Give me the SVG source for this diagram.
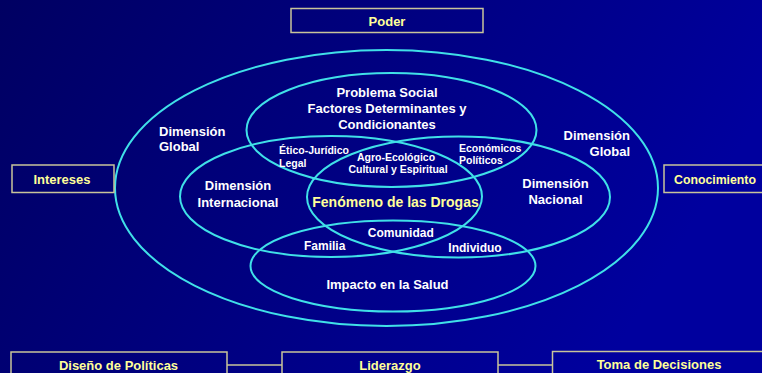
<svg xmlns="http://www.w3.org/2000/svg" width="762" height="373" viewBox="0 0 762 373">
<defs>
<linearGradient id="bg" x1="0" y1="0" x2="1" y2="0.3">
<stop offset="0" stop-color="#000062"/>
<stop offset="1" stop-color="#00009E"/>
</linearGradient>
</defs>
<style>
.ring{fill:none;stroke:#40E0E8;stroke-width:2}
.box{fill:none;stroke:#C8C49A;stroke-width:1.5}
.conn{stroke:#C8C49A;stroke-width:1.5}
.bt{font-family:"Liberation Sans",Arial,sans-serif;font-weight:bold;font-size:13px;fill:#FFFF99;text-anchor:middle}
.w{font-family:"Liberation Sans",Arial,sans-serif;font-weight:bold;font-size:13px;fill:#FFFFFF}
.s{font-family:"Liberation Sans",Arial,sans-serif;font-weight:bold;font-size:10.5px;fill:#FFFFFF}
.m{font-family:"Liberation Sans",Arial,sans-serif;font-weight:bold;font-size:12px;fill:#FFFFFF}
.c{text-anchor:middle}
</style>
<rect x="0" y="0" width="762" height="373" fill="url(#bg)"/>

<g id="global">
<ellipse class="ring" cx="386.5" cy="188" rx="271.5" ry="138"/>
<text class="w" x="159" y="136">Dimensión</text>
<text class="w" x="159" y="151">Global</text>
<text class="w" x="630" y="140" text-anchor="end">Dimensión</text>
<text class="w" x="630" y="156" text-anchor="end">Global</text>
</g>

<g id="problema-social">
<ellipse class="ring" cx="391.5" cy="130" rx="145" ry="57"/>
<text class="w c" x="387" y="97">Problema Social</text>
<text class="w c" x="387" y="113">Factores Determinantes y</text>
<text class="w c" x="387" y="128.5">Condicionantes</text>
</g>

<g id="internacional">
<ellipse class="ring" cx="331" cy="196.5" rx="151" ry="60.5"/>
<text class="w c" x="238" y="190">Dimensión</text>
<text class="w c" x="238" y="206.5">Internacional</text>
</g>

<g id="nacional">
<ellipse class="ring" cx="458.5" cy="197" rx="151.5" ry="60.5"/>
<text class="w c" x="555.5" y="187.5">Dimensión</text>
<text class="w c" x="555.5" y="203.5">Nacional</text>
</g>

<g id="salud">
<ellipse class="ring" cx="393" cy="266" rx="142.5" ry="45.5"/>
<text class="w c" x="387.5" y="289">Impacto en la Salud</text>
</g>

<g id="subfactores">
<text class="s" x="279" y="153.5">Ético-Jurídico</text>
<text class="s" x="279" y="166.5">Legal</text>
<text class="s c" x="396" y="161">Agro-Ecológico</text>
<text class="s c" x="398" y="173">Cultural y Espiritual</text>
<text class="s" x="459" y="152">Económicos</text>
<text class="s" x="459" y="163.5">Políticos</text>
</g>

<g id="fenomeno">
<text class="w c" x="395.5" y="206.5" style="font-size:14px;fill:#FFFF99">Fenómeno de las Drogas</text>
</g>

<g id="niveles">
<text class="m c" x="400.8" y="236.5">Comunidad</text>
<text class="m c" x="324.7" y="250">Familia</text>
<text class="m c" x="475" y="251.5">Individuo</text>
</g>

<g id="poder">
<rect class="box" x="291" y="8.5" width="192" height="24"/>
<text class="bt" x="387" y="25.5">Poder</text>
</g>

<g id="intereses">
<rect class="box" x="12" y="165" width="102" height="27.5"/>
<text class="bt" x="62" y="183.5">Intereses</text>
</g>

<g id="conocimiento">
<rect class="box" x="664" y="165" width="104" height="27.5"/>
<text class="bt" x="715" y="183.5" style="font-size:12.3px">Conocimiento</text>
</g>

<g id="diseno">
<rect class="box" x="11" y="352" width="216" height="30"/>
<text class="bt" x="118.5" y="369.5">Diseño de Políticas</text>
</g>

<g id="liderazgo">
<rect class="box" x="282" y="352" width="216" height="30"/>
<text class="bt" x="390" y="369.5">Liderazgo</text>
</g>

<g id="decisiones">
<rect class="box" x="552.5" y="351.5" width="216" height="30"/>
<text class="bt" x="659" y="368.5">Toma de Decisiones</text>
</g>

<g id="connectors">
<line class="conn" x1="227" y1="365" x2="282" y2="365"/>
<line class="conn" x1="498" y1="365" x2="552.5" y2="365"/>
</g>
</svg>
